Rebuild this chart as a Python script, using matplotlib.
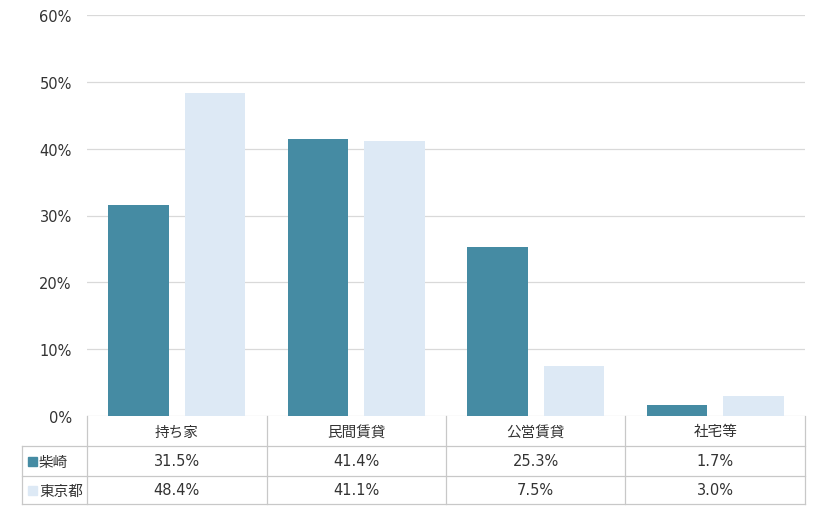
import matplotlib
matplotlib.use("Agg")
import matplotlib.pyplot as plt
from matplotlib.lines import Line2D
from matplotlib.patches import Rectangle

plt.rcParams['font.family'] = ['DejaVu Sans', 'Noto Sans CJK JP']

categories = ["持ち家", "民間賃貸", "公営賃貸", "社宅等"]
series_names = ["柴崎", "東京都"]
shibasaki = [31.5, 41.4, 25.3, 1.7]
tokyo = [48.4, 41.1, 7.5, 3.0]
yticks = [0, 10, 20, 30, 40, 50, 60]

c_dark = "#458BA3"
c_light = "#DDE9F5"
grid_c = "#D9D9D9"
txt_c = "#333333"
fs = 10.5

W, H = 820, 510
fig = plt.figure(figsize=(W / 100, H / 100), dpi=100)

L, R, T, B = 87, 805, 16, 417
ax = fig.add_axes([L / W, 1 - B / H, (R - L) / W, (B - T) / H])

n = len(categories)
xs = list(range(n))
off = 0.213
bw = 0.335
ax.bar([x - off for x in xs], shibasaki, width=bw, color=c_dark, zorder=3)
ax.bar([x + off for x in xs], tokyo, width=bw, color=c_light, zorder=3)

ax.set_xlim(-0.5, n - 0.5)
ax.set_ylim(0, 60)
ax.set_yticks(yticks)
ax.set_yticklabels([f"{v}%" for v in yticks], fontsize=fs, color=txt_c)
ax.set_xticks([])
ax.tick_params(axis='y', length=0, pad=11)
for s in ax.spines.values():
    s.set_visible(False)
ax.yaxis.grid(True, color=grid_c, linewidth=0.9)
ax.set_axisbelow(True)

# data table drawn below the axes
row_tops = [417, 447, 477, 505]
lab_left = 22
col_w = (R - L) / n
line_c = "#C8C8C8"

def hline(y, x0, x1):
    fig.add_artist(Line2D([x0 / W, x1 / W], [1 - y / H, 1 - y / H], color=line_c, lw=0.9))

def vline(x, y0, y1):
    fig.add_artist(Line2D([x / W, x / W], [1 - y0 / H, 1 - y1 / H], color=line_c, lw=0.9))

hline(row_tops[1], lab_left, R)
hline(row_tops[2], lab_left, R)
hline(row_tops[3], lab_left, R)
vline(lab_left, row_tops[1], row_tops[3])
for i in range(n + 1):
    vline(L + i * col_w, row_tops[0], row_tops[3])

for i, c in enumerate(categories):
    cx = L + (i + 0.5) * col_w
    fig.text(cx / W, 1 - (row_tops[0] + row_tops[1]) / 2 / H, c, ha='center', va='center',
             fontsize=fs, color=txt_c)

for r, (name, vals, col) in enumerate(zip(series_names, [shibasaki, tokyo], [c_dark, c_light])):
    cy = (row_tops[r + 1] + row_tops[r + 2]) / 2
    fig.add_artist(Rectangle((28 / W, 1 - (cy + 4.5) / H), 9 / W, 9 / H, color=col,
                             transform=fig.transFigure))
    fig.text(39 / W, 1 - cy / H, name, ha='left', va='center', fontsize=fs, color=txt_c)
    for i, v in enumerate(vals):
        cx = L + (i + 0.5) * col_w
        fig.text(cx / W, 1 - cy / H, f"{v:.1f}%", ha='center', va='center', fontsize=fs,
                 color=txt_c)

fig.savefig("out.png", dpi=100)
